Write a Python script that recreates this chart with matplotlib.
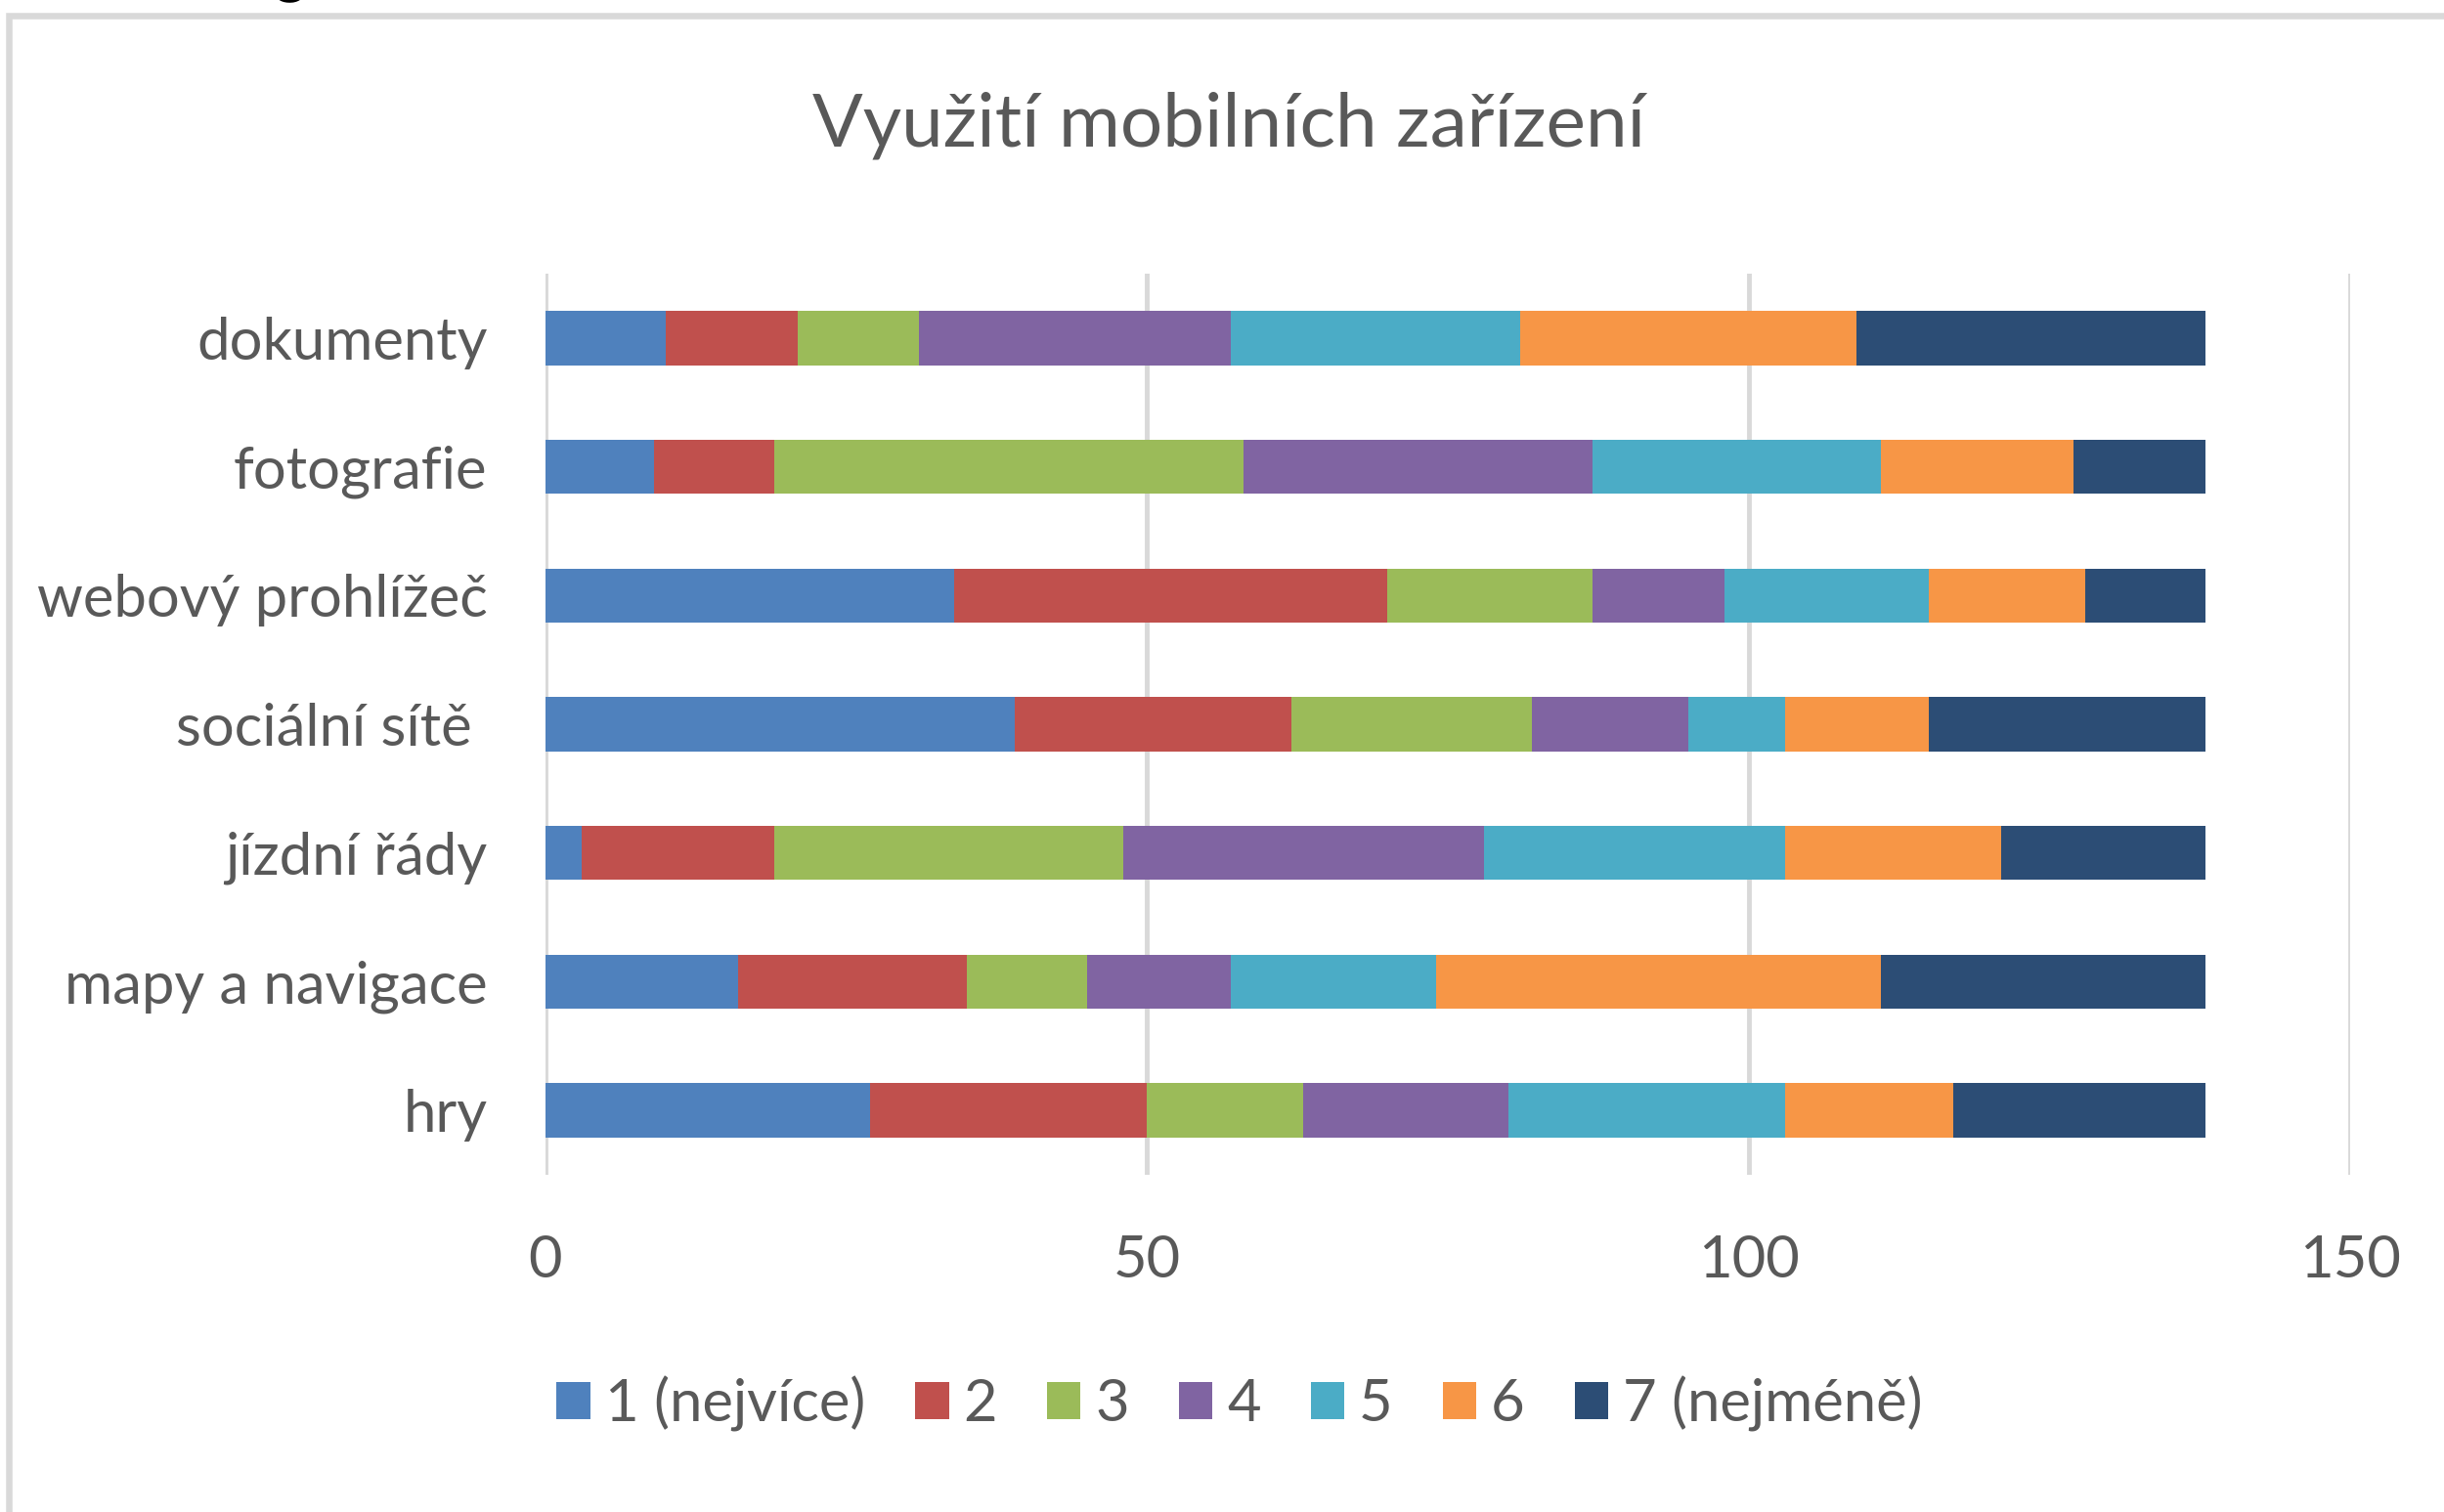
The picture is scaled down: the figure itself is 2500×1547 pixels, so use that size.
import numpy as np
import matplotlib
matplotlib.use('agg')
import matplotlib.pyplot as plt
from matplotlib.patches import Rectangle

# categories top to bottom
categories = ['dokumenty', 'fotografie', 'webový prohlížeč', 'sociální sítě ',
              'jízdní řády', 'mapy a navigace', 'hry']
series_names = ['1 (nejvíce)', '2', '3', '4', '5', '6', '7 (nejméně)']

r1 = [10, 9, 34, 39, 3, 16, 27]
r2 = [11, 10, 36, 23, 16, 19, 23]
r3 = [10, 39, 17, 20, 29, 10, 13]
r4 = [26, 29, 11, 13, 30, 12, 17]
r5 = [24, 24, 17, 8, 25, 17, 23]
r6 = [28, 16, 13, 12, 18, 37, 14]
r7 = [29, 11, 10, 23, 17, 27, 21]

xticks = [0, 50, 100, 150]

colors = ['#4F81BD', '#C0504D', '#9BBB59', '#8064A2', '#4BACC6', '#F79646', '#2C4D75']
txt = '#595959'
grid = '#D9D9D9'

plt.rcParams['font.family'] = ['Lato', 'DejaVu Sans']

W, H = 2500, 1547
fig = plt.figure(figsize=(W / 100, H / 100), dpi=100)

# outer chart frame (cut off at right and bottom)
fig.patches.append(Rectangle((9 / W, -0.5), 2.0, 1.5 - 16 / H, transform=fig.transFigure,
                             fill=False, edgecolor=grid, linewidth=4.7))
# tail of a caption letter above the chart
fig.text(297 / W, 1 + 10 / H, 'g', fontsize=44, fontweight='bold', color='black',
         ha='center', va='baseline')

ax = fig.add_axes([558 / W, 1 - 1202 / H, (2404 - 558) / W, (1202 - 280) / H])

series = [r1, r2, r3, r4, r5, r6, r7]
y = np.arange(len(categories))
left = np.zeros(len(categories))
for vals, name, col in zip(series, series_names, colors):
    ax.barh(y, vals, left=left, height=0.42, color=col, label=name, zorder=3)
    left = left + np.array(vals)

ax.set_xlim(0, 150)
ax.set_ylim(-0.5, len(categories) - 0.5)
ax.invert_yaxis()
ax.set_xticks(xticks)
ax.set_yticks(y)
ax.set_yticklabels(categories)
ax.xaxis.grid(True, color=grid, linewidth=3.5, zorder=0)
ax.set_axisbelow(True)
for s in ax.spines.values():
    s.set_visible(False)
ax.tick_params(axis='both', length=0, labelsize=43, colors=txt)
ax.tick_params(axis='y', pad=43)
ax.tick_params(axis='x', pad=44)

fig.text(1257 / W, 1 - 128 / H, 'Využití mobilních zařízení', fontsize=55, color=txt,
         ha='center', va='center')

fig.legend(loc='center', bbox_to_anchor=(1268 / W, 1 - 1436 / H), ncol=7, frameon=False,
           fontsize=43, labelcolor=txt, handlelength=0.58, handleheight=0.58,
           handletextpad=0.25, columnspacing=0.85)

fig.savefig('out.png', dpi=100)
